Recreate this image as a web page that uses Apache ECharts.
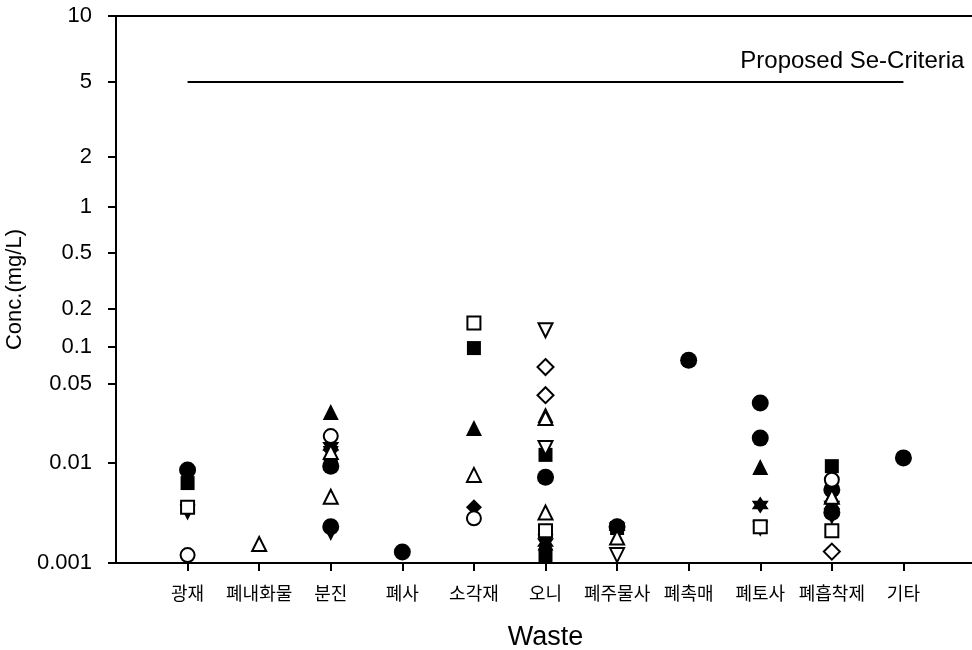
<!DOCTYPE html>
<html>
<head>
<meta charset="utf-8">
<title>Se leaching concentration by waste type</title>
<script src="https://cdn.jsdelivr.net/npm/echarts@6/dist/echarts.min.js"></script>
<style>
  html, body { margin: 0; padding: 0; background: #fff; }
  #chart { width: 972px; height: 650px; }
</style>
</head>
<body>
<div id="chart"></div>
<script>
// Waste categories along the x axis
const categories = ['광재', '폐내화물', '분진', '폐사', '소각재', '오니', '폐주물사', '폐촉매', '폐토사', '폐흡착제', '기타'];

// Concentration tick labels (mg/L) and where each sits on the axis (axis units, bottom = 0)
const tickValues = [0.001, 0.01, 0.05, 0.1, 0.2, 0.5, 1, 2, 5, 10];
const tickLabels = ['0.001', '0.01', '0.05', '0.1', '0.2', '0.5', '1', '2', '5', '10'];
const tickStops  = [0, 100, 179, 216, 254, 310, 356, 406, 481, 547];

// Proposed criterion level (mg/L) and its span of categories
const criteriaValue = 5;
const criteriaSpan = ['광재', '기타'];
const criteriaText = 'Proposed Se-Criteria';

// Measured concentrations (mg/L), one list per sample marker
const filledCircle = [['광재', 0.0085], ['분진', 0.0093], ['분진', 0.0023], ['폐사', 0.00129], ['오니', 0.0072],
  ['폐주물사', 0.0023], ['폐촉매', 0.078], ['폐토사', 0.034], ['폐토사', 0.0166], ['폐흡착제', 0.0054],
  ['폐흡착제', 0.0032], ['기타', 0.0111]];
const openCircle = [['광재', 0.0012], ['분진', 0.0173], ['소각재', 0.0028], ['폐흡착제', 0.0068]];
const filledSquare = [['광재', 0.0063], ['분진', 0.0098], ['소각재', 0.098], ['오니', 0.0118], ['오니', 0.00115],
  ['폐주물사', 0.00224], ['폐흡착제', 0.0093]];
const openSquare = [['광재', 0.0036], ['소각재', 0.155], ['오니', 0.0021], ['폐토사', 0.0023], ['폐흡착제', 0.0021]];
const filledTriangle = [['분진', 0.0282], ['소각재', 0.0204], ['오니', 0.0266], ['오니', 0.0016], ['폐토사', 0.0091],
  ['폐흡착제', 0.0047]];
const openTriangle = [['폐내화물', 0.00155], ['분진', 0.0125], ['분진', 0.0046], ['소각재', 0.0076], ['오니', 0.025],
  ['오니', 0.0032], ['폐주물사', 0.0018], ['폐흡착제', 0.0046]];
const filledInvTriangle = [['광재', 0.0032], ['분진', 0.0120], ['분진', 0.0020], ['오니', 0.0016], ['폐토사', 0.0022],
  ['폐흡착제', 0.0029]];
const openInvTriangle = [['오니', 0.136], ['오니', 0.0136], ['폐주물사', 0.0012]];
const filledDiamond = [['분진', 0.0130], ['소각재', 0.0036]];
const openDiamond = [['오니', 0.0687], ['오니', 0.0398], ['폐흡착제', 0.0013]];
const filledStar = [['분진', 0.0141], ['오니', 0.0016], ['폐주물사', 0.0023], ['폐토사', 0.0038], ['폐흡착제', 0.0038]];

// Axis scale: piecewise log interpolation between the labelled stops
function toAxis(v) {
  const lv = Math.log10(v);
  for (let i = 0; i < tickValues.length - 1; i++) {
    const a = Math.log10(tickValues[i]), b = Math.log10(tickValues[i + 1]);
    if (lv <= b || i === tickValues.length - 2) {
      const t = (lv - a) / (b - a);
      return tickStops[i] + t * (tickStops[i + 1] - tickStops[i]);
    }
  }
}
function catPos(name) { return categories.indexOf(name) + 1; }
function toPoints(list) { return list.map(d => [catPos(d[0]), toAxis(d[1]), d[1]]); }

const INV_TRI = 'path://M0,0 L20,0 L10,17.3 Z';
const STAR = 'path://M0,-10 L8.66,5 L-8.66,5 Z M0,10 L-8.66,-5 L8.66,-5 Z';

function marker(name, list, symbol, filled, size) {
  return {
    name: name,
    type: 'scatter',
    data: toPoints(list),
    symbol: symbol,
    symbolSize: size,
    itemStyle: filled
      ? { color: '#000', borderColor: '#000', borderWidth: 0, opacity: 1 }
      : { color: '#fff', borderColor: '#000', borderWidth: 2, opacity: 1 },
    emphasis: { disabled: true },
    z: filled ? 3 : 4
  };
}

const catTicks = categories.map((c, i) => i + 1);

const chart = echarts.init(document.getElementById('chart'));
chart.setOption({
  backgroundColor: '#fff',
  animation: false,
  textStyle: { fontFamily: 'Liberation Sans, Arial, sans-serif', color: '#000' },
  grid: { left: 116, top: 16, right: -3, bottom: 87, outerBoundsMode: 'none', containLabel: false },
  xAxis: [{
    type: 'value',
    min: 0,
    max: 12,
    interval: 1,
    name: 'Waste',
    nameLocation: 'middle',
    nameGap: 61,
    nameTextStyle: { fontSize: 27, color: '#000', fontFamily: 'Liberation Sans, Arial, sans-serif' },
    splitLine: { show: false },
    axisLine: { lineStyle: { color: '#000', width: 2 } },
    axisTick: { customValues: catTicks, length: 8, inside: false, lineStyle: { color: '#000', width: 2 } },
    axisLabel: {
      customValues: catTicks,
      margin: 21,
      fontSize: 18,
      color: '#000',
      fontFamily: 'Noto Sans CJK KR, sans-serif',
      formatter: v => categories[Math.round(v) - 1] || ''
    }
  }, {
    type: 'value',
    position: 'top',
    min: 0,
    max: 12,
    axisLine: { show: true, onZero: false, lineStyle: { color: '#000', width: 2 } },
    axisTick: { show: false },
    axisLabel: { show: false },
    splitLine: { show: false }
  }],
  yAxis: {
    type: 'value',
    min: tickStops[0],
    max: tickStops[tickStops.length - 1],
    name: 'Conc.(mg/L)',
    nameLocation: 'middle',
    nameRotate: 90,
    nameGap: 87,
    nameTextStyle: { fontSize: 22, color: '#000', fontFamily: 'Liberation Sans, Arial, sans-serif' },
    splitLine: { show: false },
    axisLine: { show: true, lineStyle: { color: '#000', width: 2 } },
    axisTick: { customValues: tickStops, length: 8, inside: false, lineStyle: { color: '#000', width: 2 } },
    axisLabel: {
      customValues: tickStops,
      margin: 24,
      fontSize: 22,
      color: '#000',
      fontFamily: 'Liberation Sans, Arial, sans-serif',
      formatter: v => {
        const i = tickStops.findIndex(s => Math.abs(s - v) < 0.5);
        return i >= 0 ? tickLabels[i] : '';
      }
    }
  },
  series: [
    {
      name: 'criteria',
      type: 'line',
      data: [
        [catPos(criteriaSpan[0]), toAxis(criteriaValue)],
        [catPos(criteriaSpan[1]), toAxis(criteriaValue)]
      ],
      showSymbol: false,
      symbol: 'none',
      lineStyle: { color: '#000', width: 2 },
      endLabel: {
        show: true,
        formatter: criteriaText,
        align: 'right',
        verticalAlign: 'bottom',
        offset: [53, -9],
        fontSize: 24,
        color: '#000',
        fontFamily: 'Liberation Sans, Arial, sans-serif'
      },
      emphasis: { disabled: true },
      z: 2
    },
    marker('filledCircle', filledCircle, 'circle', true, 17),
    marker('openCircle', openCircle, 'circle', false, 14),
    marker('filledSquare', filledSquare, 'rect', true, 14),
    marker('openSquare', openSquare, 'rect', false, 13),
    marker('filledTriangle', filledTriangle, 'triangle', true, 16),
    marker('openTriangle', openTriangle, 'triangle', false, 14),
    marker('filledInvTriangle', filledInvTriangle, INV_TRI, true, 16),
    marker('openInvTriangle', openInvTriangle, INV_TRI, false, 14),
    marker('filledDiamond', filledDiamond, 'diamond', true, 16),
    marker('openDiamond', openDiamond, 'diamond', false, 16),
    marker('filledStar', filledStar, STAR, true, 17)
  ]
});
</script>
</body>
</html>
